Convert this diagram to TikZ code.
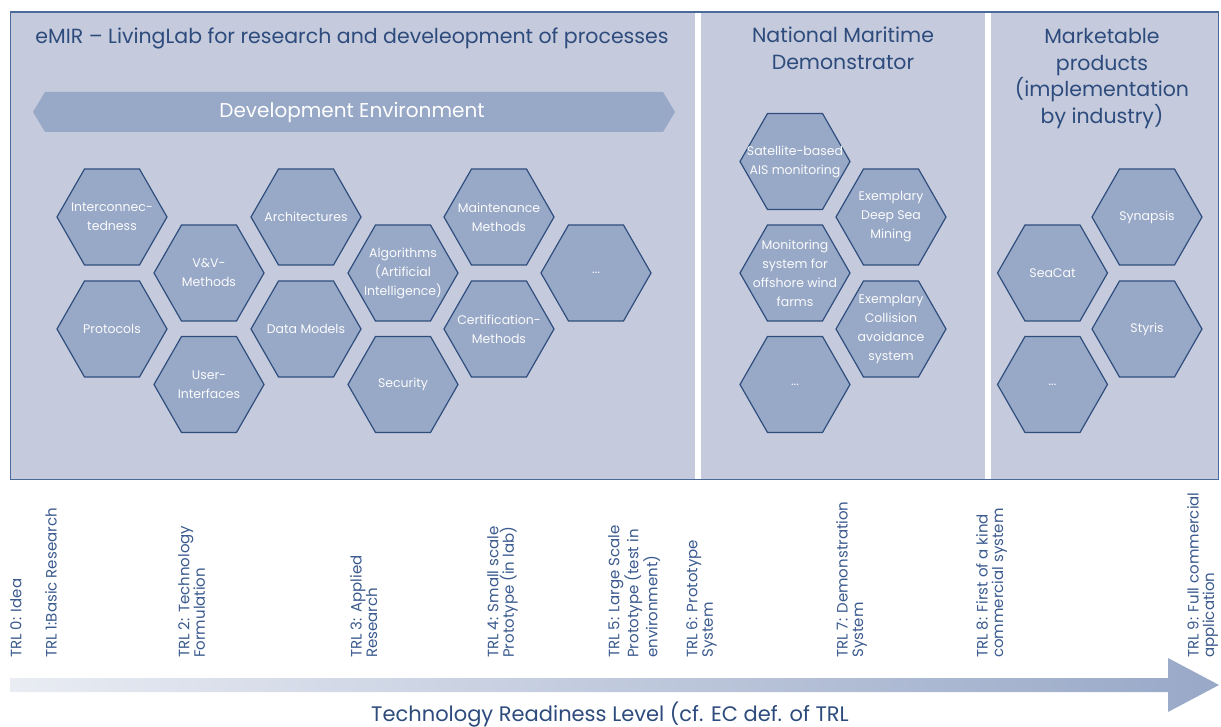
\documentclass[tikz,border=0pt]{standalone}
\usepackage{fontspec}
\setmainfont{Poppins}
\usepackage{tikz}
\usetikzlibrary{calc}
\definecolor{panelfill}{HTML}{C5CBDC}
\definecolor{hexfill}{HTML}{98A8C7}
\definecolor{hexline}{HTML}{2F4E7E}
\definecolor{frameline}{HTML}{4A6A9A}
\definecolor{titleblue}{HTML}{2D4B7C}
\definecolor{trlblue}{HTML}{3A5A8E}
\definecolor{arrowlight}{HTML}{E9ECF3}
\tikzset{
  hexcell/.style={fill=hexfill, draw=hexline, line width=1.2pt, line join=miter},
  hextext/.style={text=white!95!hexfill, align=center, inner sep=0pt, font=\fontsize{12.5}{19}\selectfont},
  paneltitle/.style={text=titleblue, align=center, inner sep=0pt, font=\fontsize{20.5}{26.7}\selectfont},
  trl/.style={text=trlblue, rotate=90, anchor=north west, align=left, inner sep=0pt, font=\fontsize{15}{15.5}\selectfont},
}
\def\hexcell(#1)(#2,#3)#4{%
  \draw[hexcell] (#2,#3) ++(-55,0) -- ++(27.5,-48) -- ++(55,0) -- ++(27.5,48) -- ++(-27.5,48) -- ++(-55,0) -- cycle;
  \node[hextext] (#1) at (#2,#3) {#4};}

\begin{document}
\begin{tikzpicture}[x=1pt, y=-1pt]
		%%%%% START %%%%%
		\useasboundingbox (0, 0) rectangle (1221, 727);
		
		\fill[panelfill] (10.5, 12) rectangle (1218.5, 479.5);
		\fill[white] (695, 13) rectangle (701, 479);
		\fill[white] (985, 13) rectangle (991, 479);
		\draw[line width=1.5pt, color=frameline] (10.5, 12) rectangle (1218.5, 479.5);
		
		\node[paneltitle] (emir) at (352, 38) {eMIR -- LivingLab for research and develeopment of processes};
		\node[paneltitle] (demo) at (843, 48.5) {National Maritime\\Demonstrator};
		\node[paneltitle] (market) at (1102, 78.5) {Marketable\\products\\(implementation\\by industry)};
		
		\fill[hexfill] (33, 112) -- (45, 92) -- (663, 92) -- (675, 112) -- (663, 132) -- (45, 132) -- cycle;
		\node[text=white, inner sep=0pt, font=\fontsize{20}{24}\selectfont] (devenv) at (352, 112) {Development Environment};
		
		% eMIR cells
		\hexcell(inter)(112, 217){Interconnec-\\tedness}
		\hexcell(proto)(112, 329){Protocols}
		\hexcell(vv)(209, 273){V\&V-\\Methods}
		\hexcell(user)(209, 384.5){User-\\Interfaces}
		\hexcell(arch)(306, 217){Architectures}
		\hexcell(data)(306, 329){Data Models}
		\hexcell(algo)(403, 273){Algorithms\\(Artificial\\Intelligence)}
		\hexcell(secu)(403, 384.5){Security}
		\hexcell(maint)(499, 217){Maintenance\\Methods}
		\hexcell(cert)(499, 329){Certification-\\Methods}
		\hexcell(more)(596, 273){...}
		
		% demonstrator cells
		\hexcell(sat)(795, 161.5){Satellite-based\\AIS monitoring}
		\hexcell(deep)(891, 217){Exemplary\\Deep Sea\\Mining}
		\hexcell(wind)(795, 273){Monitoring\\system for\\offshore wind\\farms}
		\hexcell(coll)(891, 329){Exemplary\\Collision\\avoidance\\system}
		\hexcell(demomore)(795, 384.5){...}
		
		% product cells
		\hexcell(seacat)(1052.5, 273){SeaCat}
		\hexcell(synapsis)(1147, 217){Synapsis}
		\hexcell(styris)(1147, 329){Styris}
		\hexcell(prodmore)(1052.5, 384.5){...}
		
		% readiness levels
		\node[trl] (trl0) at (10, 658) {TRL 0: Idea};
		\node[trl] (trl1) at (45, 658) {TRL 1:Basic Research};
		\node[trl] (trl2) at (178, 658) {TRL 2: Technology\\Formulation};
		\node[trl] (trl3) at (350, 658) {TRL 3: Applied\\Research};
		\node[trl] (trl4) at (487, 658) {TRL 4: Small scale\\Prototype (in lab)};
		\node[trl] (trl5) at (608, 658) {TRL 5: Large Scale\\Prototype (test in\\environment)};
		\node[trl] (trl6) at (686, 658) {TRL 6: Prototype\\System};
		\node[trl] (trl7) at (836, 658) {TRL 7: Demonstration\\System};
		\node[trl] (trl8) at (976, 658) {TRL 8: First of a kind\\commercial system};
		\node[trl] (trl9) at (1187, 658) {TRL 9: Full commercial\\application};
		
		\shade[left color=arrowlight, right color=hexfill] (10, 678) -- (1168, 678) -- (1168, 658) -- (1219, 685) -- (1168, 712) -- (1168, 692) -- (10, 692) -- cycle;
		\node[text=titleblue, inner sep=0pt, font=\fontsize{21}{25}\selectfont] (axis) at (610, 715) {Technology Readiness Level (cf. EC def. of TRL};
		
		%%%%% END %%%%%
	\end{tikzpicture}
\end{document}
